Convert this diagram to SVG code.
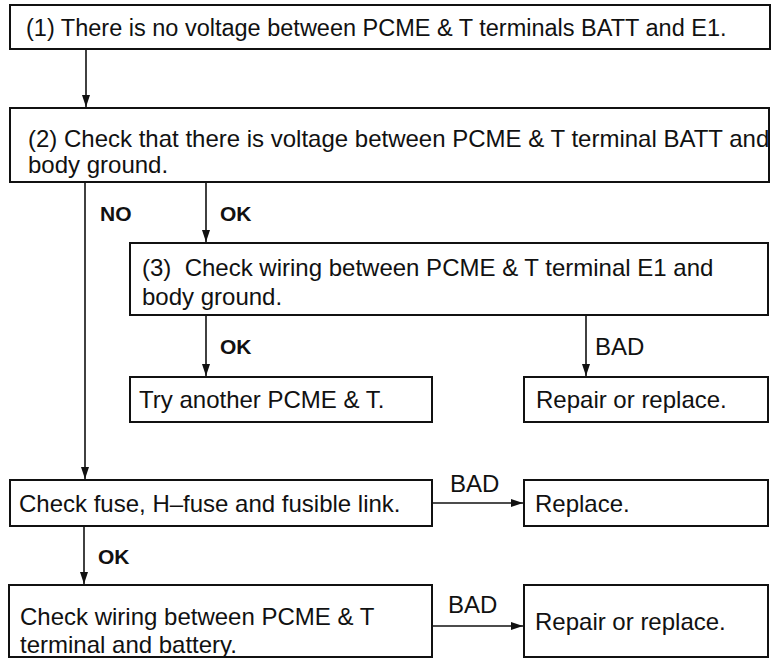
<svg xmlns="http://www.w3.org/2000/svg" width="772" height="659" viewBox="0 0 772 659">
<style>
.box{fill:#fff;stroke:#111;stroke-width:2}
.t{font-family:"Liberation Sans",Arial,sans-serif;font-size:24px;fill:#111}
.t1{font-size:23.5px}
.lb{font-family:"Liberation Sans",Arial,sans-serif;font-size:21px;font-weight:bold;fill:#111}
.ln{fill:none;stroke:#111;stroke-width:1.6}
</style>
<defs>
<marker id="ah" markerWidth="12" markerHeight="8" refX="12" refY="4" orient="auto" markerUnits="userSpaceOnUse">
<path d="M0,0 L12,4 L0,8 Z" fill="#111"/>
</marker>
</defs>
<rect width="772" height="659" fill="#fff"/>
<g id="connectors">
<line class="ln" x1="86" y1="50" x2="86" y2="107" marker-end="url(#ah)"/>
<line class="ln" x1="85" y1="183" x2="85" y2="479" marker-end="url(#ah)"/>
<line class="ln" x1="206" y1="183" x2="206" y2="242" marker-end="url(#ah)"/>
<line class="ln" x1="206" y1="316" x2="206" y2="376" marker-end="url(#ah)"/>
<line class="ln" x1="586" y1="316" x2="586" y2="376" marker-end="url(#ah)"/>
<line class="ln" x1="433" y1="503" x2="523" y2="503" marker-end="url(#ah)"/>
<line class="ln" x1="84" y1="527" x2="84" y2="584" marker-end="url(#ah)"/>
<line class="ln" x1="433" y1="626" x2="523" y2="626" marker-end="url(#ah)"/>
<text class="lb" x="100" y="221">NO</text>
<text class="lb" x="220" y="221">OK</text>
<text class="lb" x="220" y="354">OK</text>
<text class="t" x="595" y="355">BAD</text>
<text class="t" x="450" y="492">BAD</text>
<text class="lb" x="98" y="564">OK</text>
<text class="t" x="448" y="613">BAD</text>
</g>
<g id="n1">
<rect class="box" x="10" y="5" width="760" height="44"/>
<text class="t t1" x="26" y="36">(1) There is no voltage between PCME &amp; T terminals BATT and E1.</text>
</g>
<g id="n2">
<rect class="box" x="10" y="108" width="759" height="74"/>
<text class="t" x="28" y="147">(2) Check that there is voltage between PCME &amp; T terminal BATT and</text>
<text class="t" x="28" y="173">body ground.</text>
</g>
<g id="n3">
<rect class="box" x="130" y="243" width="638" height="72"/>
<text class="t" x="142" y="276" xml:space="preserve">(3)  Check wiring between PCME &amp; T terminal E1 and</text>
<text class="t" x="142" y="305">body ground.</text>
</g>
<g id="n4">
<rect class="box" x="130" y="377" width="302" height="45"/>
<text class="t" x="139" y="408">Try another PCME &amp; T.</text>
</g>
<g id="n5">
<rect class="box" x="524" y="377" width="244" height="45"/>
<text class="t" x="536" y="408">Repair or replace.</text>
</g>
<g id="n6">
<rect class="box" x="10" y="480" width="422" height="46"/>
<text class="t" x="19" y="512">Check fuse, H–fuse and fusible link.</text>
</g>
<g id="n7">
<rect class="box" x="524" y="480" width="244" height="46"/>
<text class="t" x="535" y="512">Replace.</text>
</g>
<g id="n8">
<rect class="box" x="9" y="585" width="423" height="72"/>
<text class="t" x="20" y="625">Check wiring between PCME &amp; T</text>
<text class="t" x="20" y="653">terminal and battery.</text>
</g>
<g id="n9">
<rect class="box" x="524" y="585" width="244" height="72"/>
<text class="t" x="535" y="630">Repair or replace.</text>
</g>
</svg>
